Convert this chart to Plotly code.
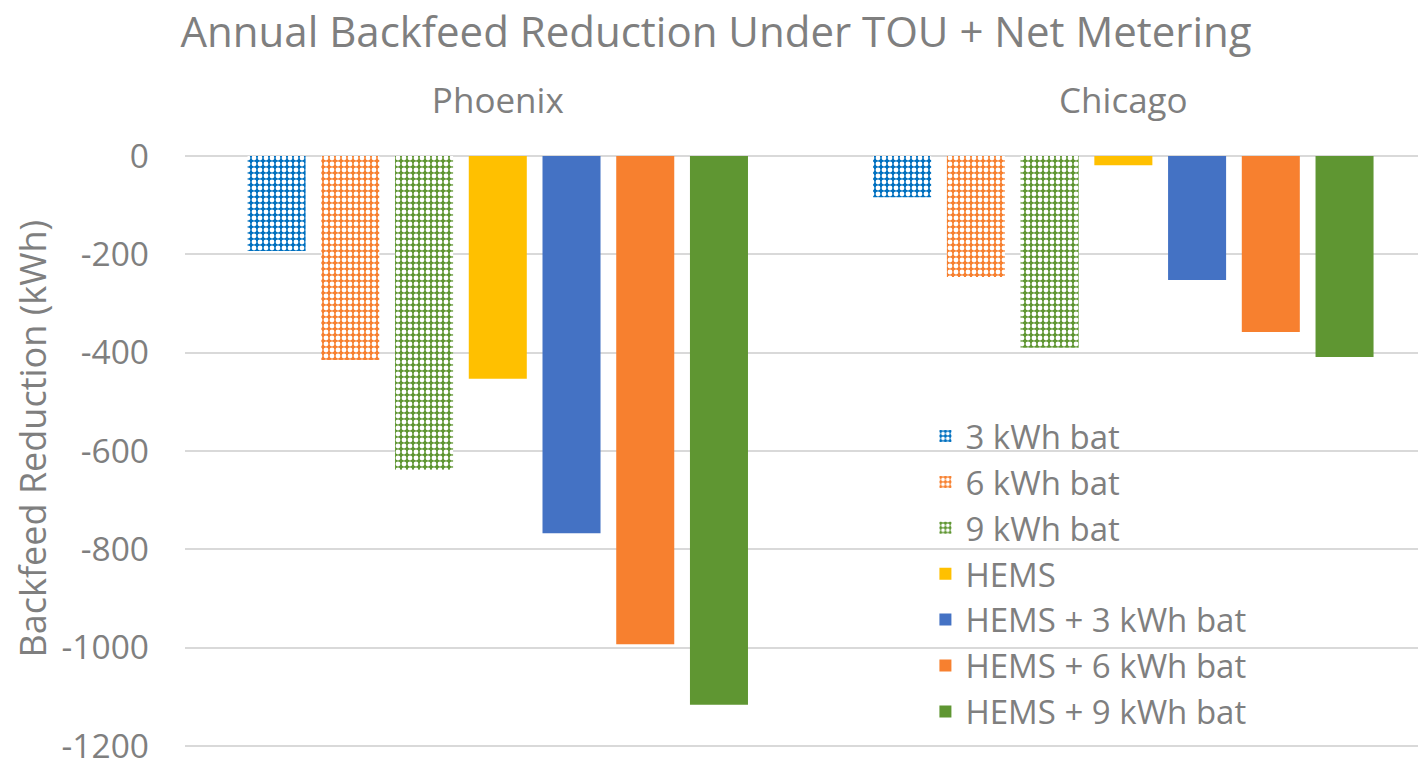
import plotly.graph_objects as go

# data
cities = ["Phoenix", "Chicago"]
series = ["3 kWh bat", "6 kWh bat", "9 kWh bat", "HEMS",
          "HEMS + 3 kWh bat", "HEMS + 6 kWh bat", "HEMS + 9 kWh bat"]
values = [
    [-193, -84],
    [-415, -246],
    [-638, -390],
    [-453, -19],
    [-767, -252],
    [-993, -358],
    [-1116, -409],
]
colors = ["#0070C0", "#F7802F", "#5F9632", "#FFC000",
          "#4472C4", "#F7802F", "#5F9632"]
patterned = [True, True, True, False, False, False, False]
y_ticks = [0, -200, -400, -600, -800, -1000, -1200]
y_ticktext = ["0", "-200", "-400", "-600", "-800", "-1000", "-1200"]

GREY = "#7F7F7F"
FONT = "Open Sans"

fig = go.Figure()
for name, vals, col, pat in zip(series, values, colors, patterned):
    marker = dict(color=col, line=dict(width=0))
    if pat:
        # coloured fill with small white holes ~ Excel "small checkerboard"
        marker["pattern"] = dict(shape=".", size=6, solidity=0.5,
                                 fgcolor="white", bgcolor=col, fgopacity=1)
    fig.add_trace(go.Bar(x=cities, y=vals, name=name, marker=marker))

fig.add_annotation(text="Backfeed Reduction (kWh)", textangle=-90,
                   xref="paper", yref="paper", x=-0.124, y=0.523,
                   xanchor="center", yanchor="middle", showarrow=False,
                   font=dict(size=36, color=GREY))

fig.update_layout(
    width=1418, height=761,
    barmode="group", bargap=0.175, bargroupgap=0.213,
    plot_bgcolor="white", paper_bgcolor="white",
    font=dict(family=FONT, color=GREY, size=33),
    title=dict(text="Annual Backfeed Reduction Under TOU + Net Metering",
               x=0.505, xanchor="center", y=0.957, yanchor="middle",
               font=dict(size=42, color=GREY)),
    margin=dict(l=185, r=0, t=155, b=12),
    xaxis=dict(side="top", range=[-0.5, 1.471], showgrid=False,
               automargin=False, ticks="", ticklabelstandoff=34,
               tickfont=dict(size=35)),
    # a little padding so the end gridlines are not clipped away
    yaxis=dict(range=[-1206, 2], tickvals=y_ticks, ticktext=y_ticktext,
               showgrid=True, automargin=False, ticklabeloverflow="allow",
               gridcolor="#D9D9D9", gridwidth=1.5, zeroline=True,
               zerolinecolor="#D9D9D9", zerolinewidth=1.5,
               ticklabelstandoff=35, tickfont=dict(size=33.5)),
    legend=dict(x=0.6005, y=0.574, xanchor="left", yanchor="top",
                bgcolor="rgba(0,0,0,0)", font=dict(size=33),
                traceorder="normal", itemwidth=30),
    showlegend=True,
)

# drop the page's default 8px body margin so the figure fills the window
fig.write_html("out.html", config={"displayModeBar": False},
               post_script="document.body.style.margin='0px';")
